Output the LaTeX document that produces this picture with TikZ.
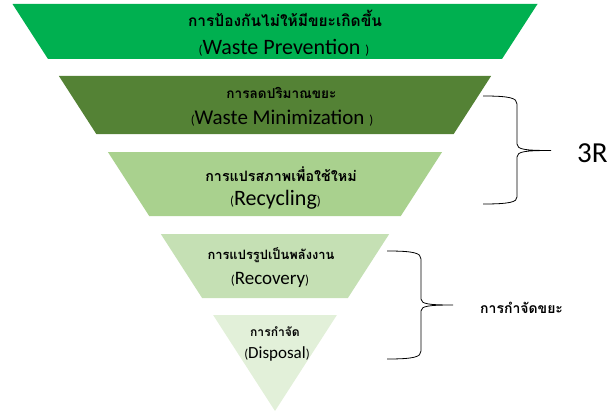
\documentclass[tikz,border=0pt]{standalone}
\usepackage{fontspec}
\setmainfont{Carlito}
\newfontfamily\thaifont[Script=Thai]{Loma}
\definecolor{prevgreen}{HTML}{00B050}
\definecolor{minigreen}{HTML}{548235}
\definecolor{recygreen}{HTML}{A9D18E}
\definecolor{recogreen}{HTML}{C5E0B4}
\definecolor{dispgreen}{HTML}{E2F0D9}
\newcommand{\openp}{{\fontsize{13}{13}\selectfont(}}
\newcommand{\closep}{{\fontsize{13}{13}\selectfont)}}
\begin{document}
\begin{tikzpicture}[x=1pt,y=-1pt,
    en/.style={anchor=base,inner sep=0pt,font=\fontsize{#1}{#1}\selectfont},
    th/.style={anchor=base,inner sep=0pt,font=\thaifont\bfseries\fontsize{#1}{#1}\selectfont},
    curly/.style={draw=black,line width=0.8pt}]
    \useasboundingbox (0,0) rectangle (613,412);

    % funnel
    \fill[prevgreen] (12.5,4) -- (537.5,4) -- (502,59) -- (48,59) -- cycle;
    \fill[minigreen] (58.9,76) -- (491.1,76) -- (453.7,134) -- (96.3,134) -- cycle;
    \fill[recygreen] (107.9,152) -- (442.1,152) -- (400.8,216) -- (149.2,216) -- cycle;
    \fill[recogreen] (160.8,234) -- (389.2,234) -- (347.9,298) -- (202.1,298) -- cycle;
    \fill[dispgreen] (213.1,315) -- (336.9,315) -- (275,411) -- cycle;

    \node[th=15.5] (prevTH) at (285,27) {การป้องกันไม่ให้มีขยะเกิดขึ้น};
    \node[en=22] (prevEN) at (284,55) {\openp Waste Prevention \closep};
    \node[th=13.6] (miniTH) at (281.5,98) {การลดปริมาณขยะ};
    \node[en=21] (miniEN) at (282,124) {\openp Waste Minimization \closep};
    \node[th=14.3] (recyTH) at (281,181) {การแปรสภาพเพื่อใช้ใหม่};
    \node[en=22] (recyEN) at (275.5,205) {\openp Recycling\closep};
    \node[th=12.9] (recoTH) at (271,259) {การแปรรูปเป็นพลังงาน};
    \node[en=19] (recoEN) at (270,284) {\openp Recovery\closep};
    \node[th=12.1] (dispTH) at (275,336) {การกำจัด};
    \node[en=17] (dispEN) at (277,358) {\openp Disposal\closep};

    % braces
    \coordinate (reTop) at (483,96); \coordinate (reTip) at (551,150.5); \coordinate (reBot) at (483,204);
    \coordinate (diTop) at (387,251); \coordinate (diTip) at (453,305); \coordinate (diBot) at (387,359);
    \draw[curly] (reTop) .. controls (510,96) and (517,98) .. (517,104) -- (517,144)
        .. controls (517,149.5) and (525,150.5) .. (reTip)
        .. controls (525,150.5) and (517,151.5) .. (517,157) -- (517,197)
        .. controls (517,202) and (510,204) .. (reBot);
    \draw[curly] (diTop) .. controls (414,251) and (421,253) .. (421,259) -- (421,299)
        .. controls (421,304) and (429,305) .. (diTip)
        .. controls (429,305) and (421,306) .. (421,311) -- (421,351)
        .. controls (421,357) and (414,359) .. (diBot);

    \node[en=29,anchor=base west] (threeR) at (577,162) {3R};
    \node[th=14,anchor=base west] (dispLabel) at (480,313) {การกำจัดขยะ};
\end{tikzpicture}
\end{document}
